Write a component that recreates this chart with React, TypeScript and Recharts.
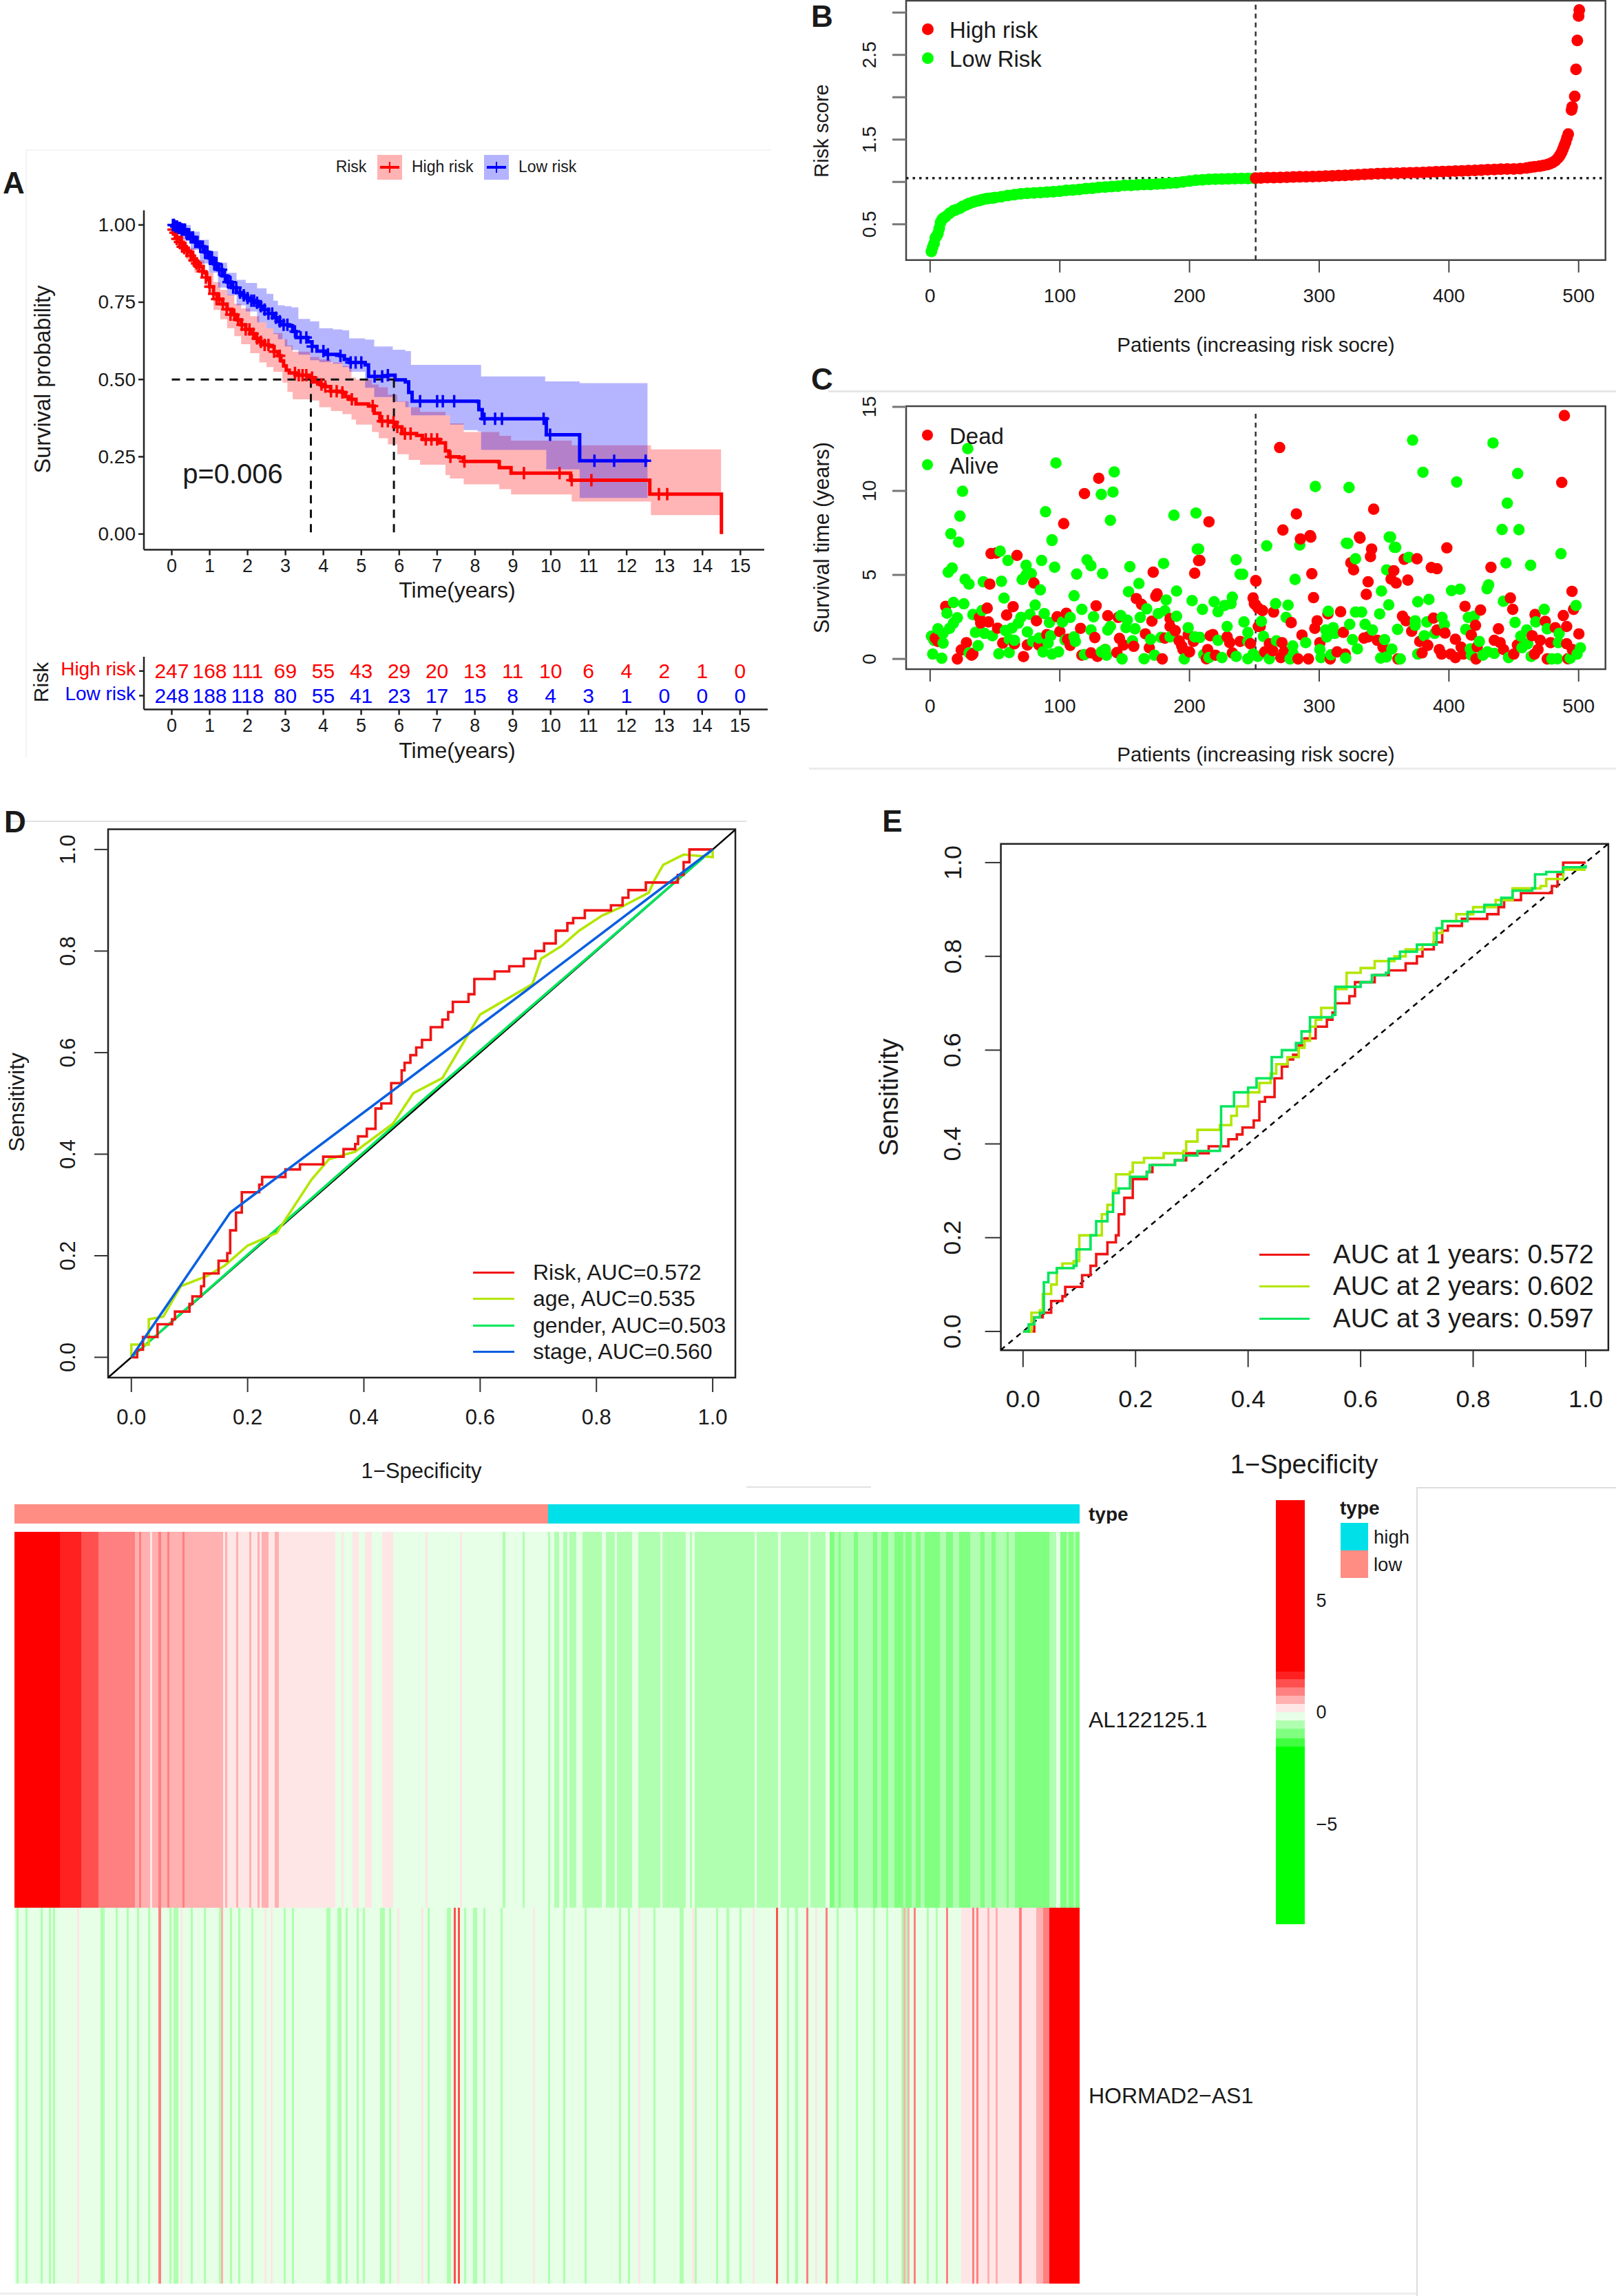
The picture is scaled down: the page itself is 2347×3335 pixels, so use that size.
import React from "react"
import {
    Area,
    Bar,
    BarChart,
    Cell,
    ComposedChart,
    Line,
    ReferenceArea,
    ReferenceLine,
    Scatter,
    XAxis,
    YAxis,
} from "recharts"

// ---- panel A: survival curves, [years, survival]
const highCurve: [number, number][] = [
    [0, 1], [0.05, 0.985], [0.12, 0.96], [0.25, 0.94], [0.35, 0.925], [0.435, 0.911], [0.55, 0.89], [0.65, 0.875], [0.74, 0.865],
    [0.83, 0.845], [0.92, 0.822], [1.0, 0.8], [1.1, 0.777], [1.22, 0.76], [1.34, 0.744], [1.46, 0.727], [1.59, 0.71], [1.7, 0.693],
    [1.83, 0.677], [1.95, 0.662], [2.07, 0.648], [2.2, 0.633], [2.31, 0.622], [2.45, 0.612], [2.56, 0.607], [2.7, 0.59], [2.8, 0.577],
    [2.88, 0.56], [2.95, 0.544], [3.02, 0.53], [3.1, 0.521], [3.28, 0.514], [3.65, 0.506], [3.77, 0.492], [3.9, 0.484], [4.01, 0.477],
    [4.19, 0.462], [4.5, 0.458], [4.58, 0.445], [4.67, 0.436], [4.86, 0.421], [5.19, 0.414], [5.34, 0.391], [5.49, 0.365], [5.76, 0.362],
    [5.92, 0.347], [6.07, 0.325], [6.46, 0.319], [6.61, 0.306], [7.07, 0.295], [7.22, 0.269], [7.31, 0.25], [7.58, 0.247], [7.7, 0.235],
    [8.61, 0.234], [8.64, 0.215], [8.95, 0.197], [10.43, 0.197], [10.52, 0.174], [12.61, 0.129], [14.49, 0.129], [14.5, 0],
]
const lowCurve: [number, number][] = [
    [0, 1], [0.25, 0.985], [0.38, 0.97], [0.5, 0.96], [0.62, 0.945], [0.74, 0.93], [0.86, 0.912], [0.98, 0.893], [1.1, 0.874],
    [1.22, 0.855], [1.34, 0.835], [1.46, 0.815], [1.58, 0.797], [1.71, 0.781], [1.83, 0.772], [1.95, 0.763], [2.07, 0.755], [2.19, 0.748],
    [2.31, 0.737], [2.43, 0.726], [2.55, 0.713], [2.68, 0.7], [2.77, 0.688], [2.86, 0.677], [3.1, 0.673], [3.19, 0.655], [3.28, 0.636],
    [3.59, 0.622], [3.7, 0.607], [3.83, 0.592], [4.07, 0.581], [4.43, 0.577], [4.55, 0.565], [4.68, 0.555], [5.1, 0.547], [5.19, 0.51],
    [5.7, 0.514], [5.89, 0.499], [6.16, 0.492], [6.25, 0.458], [6.34, 0.43], [8.07, 0.4285], [8.1, 0.4025], [8.19, 0.373], [9.88, 0.321],
    [10.76, 0.237], [12.55, 0.237],
]
const highCensored: [number, number][] = [
    [0.03, 0.985], [0.08, 0.975], [0.13, 0.955], [0.2, 0.945], [0.27, 0.93], [0.33, 0.925], [0.4, 0.915], [0.5, 0.9], [0.58, 0.885],
    [0.65, 0.875], [0.72, 0.865], [0.8, 0.85], [0.9, 0.83], [1.0, 0.8], [1.1, 0.777], [1.18, 0.76], [1.25, 0.76], [1.35, 0.744],
    [1.45, 0.727], [1.55, 0.71], [1.65, 0.71], [1.75, 0.693], [1.85, 0.677], [1.95, 0.662], [2.05, 0.662], [2.15, 0.648], [2.25, 0.633],
    [2.35, 0.622], [2.45, 0.612], [2.55, 0.612], [2.7, 0.59], [2.85, 0.577], [3.25, 0.521], [3.35, 0.514], [3.45, 0.514], [3.55, 0.514],
    [3.7, 0.506], [3.95, 0.484], [4.05, 0.477], [4.2, 0.462], [4.35, 0.462], [4.5, 0.458], [4.75, 0.436], [5.3, 0.414], [5.55, 0.365],
    [5.7, 0.365], [5.85, 0.362], [5.95, 0.347], [6.15, 0.325], [6.3, 0.325], [6.7, 0.306], [6.85, 0.306], [7.0, 0.306], [7.35, 0.25],
    [7.72, 0.235], [9.29, 0.197], [10.23, 0.197], [10.55, 0.174], [11.07, 0.174], [12.85, 0.129], [13.07, 0.129],
]
const lowCensored: [number, number][] = [
    [0.03, 1], [0.06, 1], [0.1, 0.995], [0.14, 0.995], [0.18, 0.99], [0.22, 0.99], [0.26, 0.985], [0.3, 0.985], [0.35, 0.985],
    [0.4, 0.97], [0.45, 0.97], [0.5, 0.96], [0.56, 0.96], [0.62, 0.945], [0.68, 0.945], [0.75, 0.93], [0.82, 0.93], [0.88, 0.912],
    [0.94, 0.912], [1.0, 0.893], [1.06, 0.893], [1.12, 0.874], [1.18, 0.874], [1.25, 0.855], [1.32, 0.855], [1.4, 0.835], [1.48, 0.815],
    [1.55, 0.815], [1.62, 0.797], [1.7, 0.797], [1.8, 0.781], [1.9, 0.772], [2.0, 0.763], [2.1, 0.755], [2.17, 0.755], [2.25, 0.748],
    [2.35, 0.737], [2.45, 0.726], [2.55, 0.713], [2.65, 0.713], [2.75, 0.7], [2.85, 0.688], [2.95, 0.677], [3.05, 0.677], [3.25, 0.655],
    [3.4, 0.636], [3.55, 0.636], [3.7, 0.607], [4.0, 0.592], [4.12, 0.581], [4.45, 0.577], [4.72, 0.555], [4.85, 0.555], [5.0, 0.555],
    [5.35, 0.51], [5.55, 0.51], [5.7, 0.514], [6.55, 0.43], [7.0, 0.43], [7.15, 0.43], [7.45, 0.43], [8.25, 0.373], [8.53, 0.373],
    [8.71, 0.373], [9.81, 0.373], [9.98, 0.321], [11.15, 0.237], [11.67, 0.237], [12.5, 0.237],
]
// [years, lower, upper]
const highBand: [number, number, number][] = [
    [0, 0.97, 1], [0.2, 0.93, 0.96], [0.37, 0.889, 0.926], [0.6, 0.845, 0.885], [0.86, 0.8, 0.845], [1.1, 0.725, 0.815], [1.28, 0.695, 0.79],
    [1.46, 0.666, 0.774], [1.65, 0.64, 0.745], [1.83, 0.614, 0.73], [2.07, 0.585, 0.705], [2.31, 0.555, 0.685], [2.5, 0.54, 0.665],
    [2.68, 0.525, 0.65], [2.92, 0.49, 0.63], [3.05, 0.46, 0.61], [3.19, 0.436, 0.59], [3.65, 0.432, 0.573], [3.89, 0.41, 0.565],
    [4.2, 0.398, 0.555], [4.5, 0.388, 0.544], [4.74, 0.37, 0.506], [4.86, 0.354, 0.5], [5.28, 0.33, 0.484], [5.46, 0.31, 0.475],
    [5.7, 0.29, 0.451], [5.95, 0.258, 0.43], [6.25, 0.24, 0.41], [6.55, 0.224, 0.395], [7.22, 0.191, 0.384], [7.34, 0.18, 0.358],
    [7.7, 0.161, 0.33], [8.64, 0.145, 0.318], [8.95, 0.128, 0.302], [10.55, 0.105, 0.287], [12.64, 0.061, 0.274], [14.49, 0.061, 0.274],
]
const lowBand: [number, number, number][] = [
    [0, 0.98, 1], [0.25, 0.955, 1], [0.5, 0.919, 0.978], [0.74, 0.875, 0.952], [0.98, 0.845, 0.915], [1.22, 0.797, 0.878], [1.46, 0.772, 0.845],
    [1.71, 0.74, 0.822], [1.95, 0.72, 0.812], [2.25, 0.685, 0.795], [2.5, 0.665, 0.777], [2.68, 0.647, 0.755], [2.8, 0.63, 0.74],
    [2.98, 0.607, 0.737], [3.16, 0.595, 0.733], [3.34, 0.58, 0.696], [3.65, 0.562, 0.688], [3.89, 0.556, 0.666], [4.25, 0.551, 0.662],
    [4.5, 0.54, 0.659], [4.68, 0.525, 0.633], [5.1, 0.473, 0.629], [5.34, 0.443, 0.607], [5.83, 0.428, 0.596], [6.16, 0.41, 0.592],
    [6.31, 0.384, 0.547], [7.34, 0.354, 0.547], [7.7, 0.336, 0.547], [8.07, 0.332, 0.547], [8.16, 0.272, 0.51], [9.85, 0.272, 0.494],
    [9.88, 0.209, 0.494], [10.76, 0.117, 0.488], [12.55, 0.117, 0.488],
]
const timeTicks = [0, 1, 2, 3, 4, 5, 6, 7, 8, 9, 10, 11, 12, 13, 14, 15]
const survTicks = [0, 0.25, 0.5, 0.75, 1]
const atRiskHigh = [247, 168, 111, 69, 55, 43, 29, 20, 13, 11, 10, 6, 4, 2, 1, 0]
const atRiskLow = [248, 188, 118, 80, 55, 41, 23, 17, 15, 8, 4, 3, 1, 0, 0, 0]

// ---- panel B: risk score per patient
const lowRiskPatients = [
    1, 2, 3, 4, 5, 6, 7, 8, 9, 10, 12, 15, 18, 20, 23, 25, 28, 30, 33, 35, 38, 40, 43, 45, 48, 50, 55, 60, 65, 70, 75, 80, 85, 90, 95, 100,
    105, 110, 115, 120, 125, 130, 135, 140, 145, 150, 155, 160, 165, 170, 175, 180, 185, 190, 195, 200, 205, 210, 215, 220, 225, 230, 235,
    240, 245, 250,
]
const lowRiskScores = [
    0.18, 0.23, 0.27, 0.34, 0.36, 0.39, 0.45, 0.52, 0.55, 0.57, 0.59, 0.63, 0.66, 0.67, 0.69, 0.71, 0.73, 0.745, 0.76, 0.77, 0.78, 0.79, 0.8,
    0.805, 0.81, 0.815, 0.825, 0.84, 0.85, 0.86, 0.865, 0.87, 0.875, 0.88, 0.885, 0.89, 0.9, 0.905, 0.91, 0.92, 0.925, 0.935, 0.94, 0.945,
    0.95, 0.96, 0.96, 0.965, 0.97, 0.97, 0.975, 0.98, 0.985, 0.99, 1.0, 1.01, 1.02, 1.025, 1.03, 1.033, 1.035, 1.036, 1.038, 1.04, 1.041, 1.043,
]
const highRiskPatients = [
    251, 255, 260, 265, 270, 275, 280, 285, 290, 295, 300, 305, 310, 315, 320, 325, 330, 335, 340, 345, 350, 355, 360, 365, 370, 375, 380,
    385, 390, 395, 400, 405, 410, 415, 420, 425, 430, 435, 440, 445, 450, 455, 460, 463, 466, 470, 473, 476, 478, 480, 482, 484, 485, 486,
    487, 488, 489, 490, 491, 492, 494.5, 495, 497, 498, 499, 500, 500.5,
]
const highRiskScores = [
    1.045, 1.047, 1.05, 1.05, 1.053, 1.055, 1.058, 1.06, 1.061, 1.063, 1.066, 1.069, 1.072, 1.075, 1.078, 1.082, 1.086, 1.09, 1.094, 1.097,
    1.099, 1.101, 1.103, 1.105, 1.108, 1.11, 1.112, 1.116, 1.119, 1.122, 1.125, 1.128, 1.131, 1.134, 1.136, 1.14, 1.144, 1.147, 1.15, 1.152,
    1.153, 1.157, 1.164, 1.172, 1.178, 1.186, 1.195, 1.205, 1.215, 1.23, 1.25, 1.28, 1.3, 1.325, 1.354, 1.39, 1.43, 1.47, 1.52, 1.565, 1.85,
    1.885, 2.01, 2.33, 2.67, 2.96, 3.03,
]
const patientTicks = [0, 100, 200, 300, 400, 500]
const riskTicks = [0.5, 1, 1.5, 2, 2.5, 3]
const riskMedian = 1.044
const cutoffPatient = 251

// ---- panel C: [patient, survival years]
const aliveCases: [number, number][] = [
    [29, 12.52], [97, 11.66], [142, 11.13], [25, 9.98], [141, 9.93], [132, 9.79], [23, 8.5], [89, 8.76], [139, 8.25], [188, 8.55], [205, 8.68],
    [16, 7.45], [22, 6.95], [94, 7.09], [206, 6.53], [372, 13.02], [434, 12.85], [380, 11.11], [453, 11.03], [406, 10.53], [297, 10.26], [323, 10.2],
    [445, 9.27], [441, 7.7], [454, 7.69], [354, 7.25], [322, 6.87], [358, 6.64],
    [94, 7.05], [54, 6.41], [60, 5.86], [86, 5.86], [74, 5.57], [96, 5.46], [121, 5.89], [124, 5.55], [180, 5.68], [154, 5.49], [133, 5.08], [113, 5.05],
    [14, 5.16], [17, 5.41], [207, 6.54], [236, 5.9], [239, 5.04], [241, 5.04], [27, 4.73], [30, 4.45], [41, 4.59], [55, 4.62], [71, 4.73], [74, 5.0],
    [78, 5.07], [85, 4.11], [161, 4.49], [153, 4.0], [190, 4.04], [111, 3.76], [57, 3.62], [182, 3.51], [202, 3.47], [210, 2.95], [219, 3.4], [233, 3.68],
    [227, 3.18], [232, 3.29], [222, 2.81], [18, 3.36], [26, 3.28], [81, 3.21], [117, 2.95], [126, 2.51], [167, 2.98], [176, 2.7], [181, 2.86], [190, 2.54],
    [162, 2.47], [147, 2.58], [152, 2.31], [88, 2.7], [77, 2.65], [33, 2.64], [40, 2.88], [13, 2.72], [21, 2.45], [18, 2.13], [15, 1.82], [70, 2.47],
    [68, 2.13], [92, 2.17], [108, 2.47], [102, 2.2], [139, 1.93], [137, 1.72], [151, 1.86], [158, 1.79], [242, 2.2], [229, 1.93], [245, 1.58], [199, 1.86],
    [208, 1.28], [204, 1.31], [6, 1.79], [10, 1.52], [1, 1.35], [10, 0.94], [3, 1.11], [35, 1.58], [42, 1.52], [48, 1.38], [58, 1.69], [63, 1.83],
    [75, 1.61], [65, 1.11], [61, 1.17], [84, 1.24], [79, 1.04], [93, 1.38], [91, 0.94], [87, 0.42], [94, 0.29], [99, 0.42], [124, 1.72], [111, 1.31],
    [112, 1.04], [104, 1.13], [170, 1.17], [178, 1.28], [185, 1.31], [156, 1.08], [222, 1.11], [245, 1.04], [37, 0.79], [2, 0.29], [9, 0.04], [53, 0.31],
    [61, 0.38], [30, 0.36], [119, 0.26], [132, 0.42], [136, 0.22], [148, 0], [165, 0.01], [173, 0.22], [196, 0], [211, 0.26], [215, 0.08], [225, 0.08],
    [236, 0.15], [245, 0.01], [249, 0.29], [135, 0.56],
    [259.5, 6.73], [285, 6.78], [321, 6.89], [355, 7.25], [359, 6.64], [328, 5.96], [369, 6.05], [352, 5.3], [281.4, 4.73], [348, 4.04], [402, 4.07],
    [408.5, 4.15], [429.4, 4.18], [430.6, 4.41], [444, 5.71], [463, 5.57], [486.4, 6.26], [266.4, 3.29], [276, 3.2], [376, 3.4], [384.6, 3.54], [353.6, 3.22],
    [442, 3.43], [307, 2.84], [328, 2.79], [332.7, 2.79], [346.6, 2.68], [473.5, 2.95], [498, 3.18], [255.4, 2.24], [274.5, 2.47], [323.5, 2.06], [335.4, 2.06],
    [383, 2.2], [374, 2.27], [374, 2.0], [394.7, 2.47], [396.5, 2.04], [415, 2.47], [419.5, 2.54], [451, 2.17], [360.4, 1.76], [341, 1.72], [413, 1.75],
    [467, 2.2], [305, 1.72], [310.8, 1.86], [312, 1.52], [305.8, 1.31], [381, 1.38], [389, 1.52], [460, 1.72], [455.4, 1.35], [475.8, 1.79], [485, 1.52],
    [484.4, 0.97], [257, 1.34], [267, 1.08], [325.7, 1.15], [329.4, 0.6], [289.6, 0.97], [350.4, 1.15], [356, 0.59], [423.5, 1.04], [456.3, 0.67], [460.7, 0.9],
    [463.4, 0.15], [279.6, 0.77], [280, 0.29], [277.5, 0], [300.5, 0.56], [301.4, 0.08], [309, 0.25], [320.4, 0.05], [252.7, 0.15], [261.6, 0.01], [347.4, 0.05],
    [351.9, 0.12], [362.5, 0], [376, 0.29], [416.5, 0.6], [417.3, 0.22], [426.2, 0.22], [429.7, 0.42], [435, 0.33], [446, 0.08], [493.5, 0.04], [483.7, 0.01],
    [479.3, 0], [498.8, 0.29], [501.4, 0.66],
]
const deadCases: [number, number][] = [
    [130, 10.75], [119, 9.84], [103, 8.05], [215, 8.16], [207, 5.85], [489, 14.48], [269.5, 12.58], [487, 10.5], [342, 8.91], [282.4, 8.63], [272, 7.67],
    [293, 7.34], [331, 7.25],
    [47, 6.27], [51, 6.3], [67, 6.16], [46, 4.45], [80, 4.52], [172, 5.16], [208, 5.86], [204, 5.1], [251, 4.66], [159, 3.59], [163, 3.25], [174, 3.73],
    [175, 3.87], [12, 3.13], [44, 3.02], [64, 3.11], [128, 3.16], [59, 2.61], [249, 3.63], [251, 3.22], [253, 3.02], [38, 2.47], [39, 2.13], [45, 2.2],
    [82, 2.27], [98, 2.51], [105, 2.72], [137, 2.57], [145, 2.47], [171, 2.25], [185, 2.4], [185, 1.93], [189, 1.68], [52, 1.83], [100, 1.63], [116, 1.82],
    [127, 1.27], [90, 1.45], [166, 1.49], [199, 1.45], [218, 1.45], [216, 1.38], [229, 1.31], [231, 0.97], [239, 1.04], [247, 0.9], [253, 1.93], [4, 1.24],
    [6, 1.04], [56, 0.94], [65, 0.9], [75, 0.83], [84, 0.83], [106, 1.17], [108, 0.81], [146, 1.22], [149, 0.83], [157, 0.75], [169, 0.66], [181, 1.24],
    [192, 1.08], [194, 0.77], [203, 1.04], [195, 0.56], [200, 0.42], [214, 0.56], [28, 0.97], [24, 0.53], [21, 0], [33, 0.31], [32, 0.22], [72, 0.14],
    [117, 0.22], [124, 0.36], [129, 0.15], [135, 0.56], [144, 0.38], [179, 0], [213, 0.01], [220, 0.22], [233, 0.36],
    [285.5, 7.14], [293.5, 7.25], [331.5, 7.19], [340.4, 6.54], [339.5, 6.09], [398.4, 6.61], [324.4, 5.72], [326.5, 5.3], [365.5, 5.93], [375.4, 5.96],
    [386.4, 5.44], [390.8, 5.37], [432.4, 5.45], [294.3, 5.07], [251.3, 4.63], [357.5, 5.25], [355.4, 4.75], [359.3, 4.52], [368.3, 4.69], [337.7, 4.59],
    [336.3, 3.84], [295.6, 3.65], [494.9, 4.02], [447.4, 3.63], [250, 3.29], [256.3, 2.88], [264.8, 2.79], [412.4, 3.13], [424.4, 2.91], [449.2, 2.95],
    [496.1, 2.95], [488.2, 2.58], [466.4, 2.64], [306.7, 2.68], [316.5, 2.81], [364.2, 2.54], [366.9, 2.27], [388.1, 2.43], [278.4, 2.16], [254.5, 1.93],
    [298.4, 2.27], [296.6, 1.82], [371.3, 1.65], [420.5, 2.0], [474.3, 2.24], [318.6, 1.58], [286.7, 1.42], [417.3, 1.42], [390.8, 1.72], [397, 1.54],
    [438.2, 1.79], [490.8, 1.93], [482, 1.86], [500.2, 1.49], [464.2, 1.38], [470.4, 1.11], [271.3, 0.97], [261.6, 0.9], [300.5, 0.97], [334.5, 1.24],
    [337.7, 1.31], [344.8, 1.11], [349.2, 0.7], [377.5, 1.04], [383.7, 0.81], [405, 1.17], [435, 1.11], [439.5, 0.97], [478.4, 0.97], [490.8, 0.9],
    [258, 0.42], [264.2, 0.49], [273, 0.42], [270.4, 0.08], [313.8, 0.42], [283.7, 0], [291.7, 0], [308.5, 0], [320, 0.29], [360.7, 0], [379.3, 0.36],
    [392.6, 0.56], [394.3, 0.29], [401.4, 0.29], [405, 0.08], [409.4, 0.7], [411.1, 0.29], [420.9, 0], [421.8, 0.72], [442.1, 0.56], [450, 0.29],
    [452.8, 0.83], [466, 0.29], [468.7, 0.56], [475.8, 0], [491.7, 0.01], [495.2, 0.56],
]
const yearTicks = [0, 5, 10, 15]

// ---- panel D and E: ROC curves, [1-specificity, sensitivity]
const rocRisk: [number, number][] = [
    [0, 0], [0.01, 0.015], [0.02, 0.04], [0.045, 0.065], [0.07, 0.075], [0.075, 0.09], [0.1, 0.105], [0.105, 0.12], [0.12, 0.14], [0.125, 0.165], [0.15, 0.19],
    [0.165, 0.205], [0.17, 0.25], [0.18, 0.285], [0.19, 0.325], [0.22, 0.34], [0.225, 0.355], [0.265, 0.37], [0.29, 0.38], [0.33, 0.395], [0.365, 0.41],
    [0.385, 0.42], [0.39, 0.435], [0.405, 0.45], [0.42, 0.49], [0.43, 0.5], [0.447, 0.54], [0.465, 0.565], [0.47, 0.58], [0.48, 0.595], [0.49, 0.61], [0.5, 0.625],
    [0.515, 0.65], [0.535, 0.665], [0.545, 0.68], [0.553, 0.7], [0.58, 0.715], [0.59, 0.745], [0.625, 0.76], [0.65, 0.77], [0.675, 0.785], [0.695, 0.8], [0.71, 0.815],
    [0.73, 0.84], [0.75, 0.855], [0.76, 0.865], [0.78, 0.88], [0.825, 0.89], [0.845, 0.905], [0.855, 0.92], [0.885, 0.935], [0.94, 0.95], [0.95, 0.975], [0.96, 1], [1, 1],
]
const rocAge: [number, number][] = [
    [0, 0], [0, 0.025], [0.03, 0.025], [0.03, 0.075], [0.055, 0.08], [0.085, 0.14], [0.13, 0.16], [0.16, 0.18], [0.2, 0.22], [0.25, 0.245], [0.31, 0.35], [0.34, 0.39],
    [0.385, 0.405], [0.45, 0.46], [0.485, 0.52], [0.535, 0.55], [0.6, 0.675], [0.69, 0.735], [0.705, 0.785], [0.74, 0.81], [0.77, 0.84], [0.81, 0.87], [0.84, 0.885],
    [0.89, 0.915], [0.9, 0.94], [0.915, 0.97], [0.95, 0.99], [1, 0.985], [1, 1],
]
const rocGender: [number, number][] = [[0, 0], [0.5, 0.505], [1, 1]]
const rocStage: [number, number][] = [[0, 0], [0.17, 0.285], [0.7, 0.74], [1, 1]]
const roc1Year: [number, number][] = [
    [0, 0], [0.02, 0.03], [0.035, 0.04], [0.05, 0.065], [0.07, 0.075], [0.075, 0.095], [0.105, 0.12], [0.12, 0.14], [0.13, 0.165], [0.15, 0.19], [0.165, 0.205],
    [0.17, 0.25], [0.18, 0.285], [0.195, 0.325], [0.22, 0.34], [0.23, 0.355], [0.27, 0.365], [0.29, 0.38], [0.33, 0.395], [0.365, 0.41], [0.38, 0.42], [0.39, 0.435],
    [0.41, 0.45], [0.42, 0.49], [0.43, 0.5], [0.447, 0.54], [0.46, 0.565], [0.47, 0.58], [0.48, 0.59], [0.49, 0.61], [0.5, 0.625], [0.52, 0.65], [0.54, 0.665], [0.55, 0.68],
    [0.555, 0.7], [0.58, 0.715], [0.59, 0.745], [0.625, 0.76], [0.65, 0.77], [0.68, 0.785], [0.7, 0.8], [0.71, 0.815], [0.73, 0.83], [0.745, 0.855], [0.755, 0.865],
    [0.78, 0.88], [0.825, 0.89], [0.845, 0.905], [0.855, 0.92], [0.885, 0.935], [0.94, 0.95], [0.95, 0.975], [0.96, 1], [1, 1],
]
const roc2Year: [number, number][] = [
    [0, 0], [0.015, 0.04], [0.03, 0.045], [0.035, 0.08], [0.05, 0.1], [0.06, 0.135], [0.07, 0.145], [0.09, 0.15], [0.1, 0.205], [0.12, 0.205], [0.14, 0.25], [0.15, 0.27],
    [0.16, 0.3], [0.165, 0.335], [0.19, 0.34], [0.195, 0.36], [0.215, 0.37], [0.25, 0.38], [0.285, 0.385], [0.29, 0.405], [0.31, 0.43], [0.35, 0.44], [0.37, 0.46],
    [0.38, 0.48], [0.4, 0.51], [0.42, 0.53], [0.44, 0.55], [0.45, 0.57], [0.47, 0.585], [0.49, 0.605], [0.5, 0.62], [0.51, 0.65], [0.52, 0.665], [0.53, 0.69], [0.555, 0.73],
    [0.575, 0.765], [0.6, 0.775], [0.625, 0.79], [0.66, 0.8], [0.68, 0.815], [0.71, 0.825], [0.73, 0.85], [0.745, 0.875], [0.77, 0.89], [0.8, 0.905], [0.84, 0.92], [0.87, 0.945],
    [0.92, 0.95], [0.93, 0.965], [0.96, 0.985], [1, 0.985],
]
const roc3Year: [number, number][] = [
    [0, 0], [0.01, 0.015], [0.02, 0.03], [0.03, 0.04], [0.037, 0.105], [0.045, 0.125], [0.06, 0.135], [0.09, 0.14], [0.095, 0.175], [0.12, 0.205], [0.13, 0.235], [0.15, 0.255],
    [0.16, 0.295], [0.17, 0.305], [0.19, 0.33], [0.22, 0.34], [0.225, 0.355], [0.27, 0.365], [0.285, 0.375], [0.31, 0.385], [0.35, 0.395], [0.352, 0.48], [0.375, 0.51], [0.4, 0.52],
    [0.415, 0.54], [0.442, 0.585], [0.46, 0.6], [0.485, 0.615], [0.495, 0.64], [0.51, 0.67], [0.55, 0.675], [0.555, 0.735], [0.6, 0.745], [0.62, 0.76], [0.645, 0.765], [0.65, 0.795],
    [0.67, 0.81], [0.7, 0.825], [0.735, 0.86], [0.745, 0.875], [0.79, 0.895], [0.82, 0.91], [0.85, 0.925], [0.87, 0.94], [0.905, 0.945], [0.91, 0.975], [0.93, 0.98], [0.96, 0.99], [1, 0.995],
]
const diagonal: [number, number][] = [[-0.04, -0.04], [1.04, 1.04]]
const rocTicks = [0, 0.2, 0.4, 0.6, 0.8, 1]

// ---- heatmap: runs of [patient columns, expression level]
const P0 = 0.2, P1 = 0.6, P2 = 0.9, P3 = 1.3, P4 = 1.6, MAX = 6, N0 = -0.2, N1 = -0.5, N2 = -0.9
const topGeneRuns: [number, number][] = [
    [21, MAX], [10, P4], [8, P3], [17, P2], [2, P1], [1, P2], [4, P1], [1, P0], [3, P1], [1, P2], [3, P1], [1, P2], [6, P1], [1, P2], [18, P1], [1, P0], [1, P1], [4, P0], [1, P1], [5, P0],
    [1, P1], [3, P0], [1, P1], [1, P0], [3, P1], [3, P0], [2, P1], [26, P0], [3, N0], [1, P0], [4, N0], [3, P0], [3, N0], [3, P0], [5, N0], [5, P0], [15, N0], [1, P0], [15, N0], [1, P0],
    [19, N0], [1, N1], [8, N0], [1, N1], [11, N0], [1, N1], [2, N0], [2, N1], [2, N0], [2, N1], [1, N0], [3, N1], [3, N0], [9, N1], [2, N0], [4, N1], [1, N0], [7, N1], [3, N0], [10, N1],
    [1, N0], [11, N1], [2, N0], [1, N1], [1, N0], [28, N1], [1, N0], [10, N1], [1, N0], [13, N1], [1, N0], [7, N1], [2, N0], [2, N2], [2, N1], [1, N2], [6, N1], [2, N2], [7, N1], [2, N2],
    [2, N1], [3, N2], [3, N1], [4, N2], [1, N1], [3, N2], [2, N1], [2, N2], [2, N1], [7, N2], [3, N1], [3, N2], [3, N1], [5, N2], [5, N1], [2, N2], [3, N1], [2, N2], [5, N1], [1, N2],
    [3, N1], [16, N2], [3, N1], [2, N0], [3, N2], [1, N1], [2, N2], [1, N1], [2, N2],
]
const bottomGeneRuns: [number, number][] = [
    [1, N0], [1, N1], [3, N0], [1, N1], [6, N0], [1, N1], [3, N0], [1, N1], [1, N0], [1, N1], [10, N0], [1, P0], [10, N0], [2, N1], [5, N0], [1, N1], [4, N0], [1, N1], [4, N0], [1, N1],
    [4, N0], [1, N1], [4, N0], [1, P2], [4, N0], [1, N1], [1, N0], [2, N1], [1, N0], [1, P0], [4, N0], [1, N1], [5, N0], [1, N1], [6, N0], [1, N1], [1, P1], [3, N0], [1, N1], [3, N0],
    [1, N1], [5, N0], [1, N1], [5, N0], [1, P0], [2, N0], [1, P0], [5, N0], [1, N1], [3, N0], [1, N1], [15, N0], [2, N1], [3, N0], [2, N1], [2, N0], [1, N1], [4, N0], [1, N1], [2, N0],
    [1, N1], [7, N0], [2, N1], [2, N0], [1, N1], [3, N0], [1, P0], [10, N0], [1, P0], [2, N0], [1, N1], [8, N0], [2, N1], [1, N0], [1, P3], [1, N0], [1, P3], [2, N0], [1, N1], [3, N0],
    [2, N1], [3, N0], [1, N1], [7, N0], [1, N1], [14, N0], [1, P0], [6, N0], [1, N1], [6, N0], [1, N1], [9, N0], [1, N1], [15, N0], [1, N1], [3, N0], [1, N1], [4, N0], [1, P0], [6, N0],
    [1, N1], [11, N0], [2, N1], [4, N0], [1, P0], [1, N1], [9, N0], [1, N1], [4, N0], [1, N1], [5, N0], [1, N1], [5, N0], [1, P0], [10, N0], [1, P3], [4, N0], [1, N1], [3, N0], [1, N1],
    [4, N0], [1, P2], [3, N0], [1, P0], [4, N0], [1, P2], [4, N0], [1, N1], [8, N0], [1, N1], [7, N0], [1, N1], [5, N0], [1, N1], [6, N0], [1, N1], [1, P1], [1, N1], [1, P1], [2, N0],
    [1, P2], [5, N0], [1, N1], [3, N0], [1, N1], [4, N0], [1, P2], [6, N0], [5, P0], [1, P2], [1, P0], [1, P2], [4, P0], [1, P1], [3, P0], [1, P1], [10, P0], [1, P2], [7, P0], [3, P1],
    [3, P2], [14, MAX],
]
const lowGroupColumns = 248
const highGroupColumns = 247
const heatColumns = lowGroupColumns + highGroupColumns

// colour key, stacked outwards from zero
const keyPositiveSizes = [0.38, 0.37, 0.36, 0.37, 0.34, 7.66]
const keyPositiveColors = ["#FFE6E6", "#FFB0B0", "#FF8080", "#FF5050", "#FF2020", "#FF0000"]
const keyNegativeSizes = [0.35, 0.37, 0.42, 0.37, 7.94]
const keyNegativeColors = ["#E6FFE6", "#B0FFB0", "#80FF80", "#40FF40", "#00FF00"]
const keyTicks = [-5, 0, 5]

const RED = "#FF0000"
const LIME = "#00FF00"
const BLUE = "#0000FF"
const INK = "#1a1a1a"

const pts = (list: [number, number][]) => list.map(([x, y]) => ({ x, y }))
const zip = (xs: number[], ys: number[]) => xs.map((x, i) => ({ x, y: ys[i] }))
const band = (list: [number, number, number][]) => list.map(([x, lo, hi]) => ({ x, lo, hi }))
const bandRange = (d: any) => [d.lo, d.hi]

function levelColor(z: number): string {
    if (z >= 5) return "#FF0000"
    if (z >= 0) {
        let edge = 0
        for (let i = 0; i < keyPositiveSizes.length; i++) {
            edge += keyPositiveSizes[i]
            if (z <= edge) return keyPositiveColors[i]
        }
    }
    let edge = 0
    for (let i = 0; i < keyNegativeSizes.length; i++) {
        edge -= keyNegativeSizes[i]
        if (z >= edge) return keyNegativeColors[i]
    }
    return "#00FF00"
}

function Txt({ x, y, size, rotate = 0, color = INK, bold = false, anchor = "middle", children }: any) {
    const tx = anchor === "middle" ? "-50%" : "0"
    return (
        <div
            style={{
                position: "absolute",
                left: x,
                top: y,
                fontSize: size,
                color,
                fontWeight: bold ? 700 : 400,
                lineHeight: 1,
                whiteSpace: "nowrap",
                transform: `translate(${tx}, -50%) rotate(${rotate}deg)`,
            }}
        >
            {children}
        </div>
    )
}

function Box({ x, y, w, h, color, round = false }: any) {
    return (
        <div style={{ position: "absolute", left: x, top: y, width: w, height: h, background: color, borderRadius: round ? "50%" : 0 }} />
    )
}

function At({ x, y, children }: any) {
    return <div style={{ position: "absolute", left: x, top: y }}>{children}</div>
}

const flatTick = (dy: number, size: number, format: (v: number) => string = String) => (p: any) => (
    <text x={p.x} y={p.y + dy} textAnchor="middle" dominantBaseline="central" fontSize={size} fill={INK}>
        {format(p.payload.value)}
    </text>
)

const sideTick = (dx: number, size: number, format: (v: number) => string = String) => (p: any) => (
    <text
        x={p.x - dx}
        y={p.y}
        textAnchor="middle"
        dominantBaseline="central"
        fontSize={size}
        fill={INK}
        transform={`rotate(-90 ${p.x - dx} ${p.y})`}
    >
        {format(p.payload.value)}
    </text>
)

const plusMark = (color: string) => (p: any) => (
    <path d={`M${p.cx - 8} ${p.cy}H${p.cx + 8}M${p.cx} ${p.cy - 9}V${p.cy + 9}`} stroke={color} strokeWidth={3.5} fill="none" />
)

const dotMark = (r: number, color: string) => (p: any) => <circle cx={p.cx} cy={p.cy} r={r} fill={color} />

function SurvivalPanel() {
    return (
        <ComposedChart width={1030} height={548.6} margin={{ top: 15.6, right: 10, bottom: 0, left: 0 }}>
            <XAxis
                dataKey="x"
                type="number"
                domain={[-0.735, 15.63]}
                allowDataOverflow
                ticks={timeTicks}
                interval={0}
                height={40}
                tickSize={8}
                tickMargin={0}
                stroke="#222"
                strokeWidth={2.5}
                tick={flatTick(15.4, 27)}
            />
            <YAxis
                dataKey="y"
                type="number"
                domain={[-0.051, 1.047]}
                allowDataOverflow
                ticks={survTicks}
                interval={0}
                width={119}
                tickSize={8}
                tickMargin={0}
                stroke="#222"
                strokeWidth={2.5}
                tick={(p: any) => (
                    <text x={p.x - 4} y={p.y} textAnchor="end" dominantBaseline="central" fontSize={28} fill={INK}>
                        {p.payload.value.toFixed(2)}
                    </text>
                )}
            />
            <Area data={band(highBand)} dataKey={bandRange} type="stepAfter" stroke="none" fill={RED} fillOpacity={0.29} isAnimationActive={false} />
            <Area data={band(lowBand)} dataKey={bandRange} type="stepAfter" stroke="none" fill={BLUE} fillOpacity={0.29} isAnimationActive={false} />
            <Line data={pts(highCurve)} dataKey="y" type="stepAfter" stroke={RED} strokeWidth={5} dot={false} isAnimationActive={false} />
            <Line data={pts(lowCurve)} dataKey="y" type="stepAfter" stroke={BLUE} strokeWidth={5} dot={false} isAnimationActive={false} />
            <Scatter data={pts(highCensored)} shape={plusMark(RED)} isAnimationActive={false} />
            <Scatter data={pts(lowCensored)} shape={plusMark(BLUE)} isAnimationActive={false} />
            <Line data={pts([[0, 0.5], [5.86, 0.5]])} dataKey="y" stroke="#111" strokeWidth={3} strokeDasharray="12 9" dot={false} isAnimationActive={false} />
            <Line data={pts([[3.67, 0.5], [3.67, 0]])} dataKey="y" stroke="#111" strokeWidth={3} strokeDasharray="12 9" dot={false} isAnimationActive={false} />
            <Line data={pts([[5.86, 0.5], [5.86, 0]])} dataKey="y" stroke="#111" strokeWidth={3} strokeDasharray="12 9" dot={false} isAnimationActive={false} />
        </ComposedChart>
    )
}

function RiskTablePanel() {
    const countMark = (color: string) => (p: any) => (
        <text x={p.cx} y={p.cy} textAnchor="middle" dominantBaseline="central" fontSize={30} fill={color}>
            {p.payload.n}
        </text>
    )
    return (
        <ComposedChart width={1035} height={135.4} margin={{ top: 14, right: 10, bottom: 0, left: 0 }}>
            <XAxis
                dataKey="x"
                type="number"
                domain={[-0.735, 15.73]}
                allowDataOverflow
                ticks={timeTicks}
                interval={0}
                height={45}
                tickSize={8}
                tickMargin={0}
                stroke="#222"
                strokeWidth={2.5}
                tick={flatTick(15.6, 27)}
            />
            <YAxis
                dataKey="y"
                type="number"
                domain={[-0.556, 1.578]}
                allowDataOverflow
                ticks={[0, 1]}
                interval={0}
                width={119}
                tickSize={7}
                tickMargin={0}
                stroke="#222"
                strokeWidth={2.5}
                tick={(p: any) => (
                    <text x={p.x - 5} y={p.y - 3} textAnchor="end" dominantBaseline="central" fontSize={28} fill={p.payload.value === 1 ? RED : BLUE}>
                        {p.payload.value === 1 ? "High risk" : "Low risk"}
                    </text>
                )}
            />
            <Scatter data={timeTicks.map((x, i) => ({ x, y: 1, n: atRiskHigh[i] }))} shape={countMark(RED)} isAnimationActive={false} />
            <Scatter data={timeTicks.map((x, i) => ({ x, y: 0, n: atRiskLow[i] }))} shape={countMark(BLUE)} isAnimationActive={false} />
        </ComposedChart>
    )
}

function RiskScorePanel() {
    const highPoints = zip(highRiskPatients, highRiskScores)
    return (
        <ComposedChart width={1147} height={447.8} margin={{ top: 1, right: 15.3, bottom: 0, left: 0 }}>
            <XAxis
                dataKey="x"
                type="number"
                domain={[-18.5, 520.7]}
                allowDataOverflow
                ticks={patientTicks}
                interval={0}
                height={70}
                tickSize={18}
                tickMargin={0}
                axisLine={false}
                tickLine={{ stroke: "#444", strokeWidth: 2 }}
                tick={flatTick(34, 28)}
            />
            <YAxis
                dataKey="y"
                type="number"
                domain={[0.077, 3.14]}
                allowDataOverflow
                ticks={riskTicks}
                interval={0}
                width={116}
                tickSize={20}
                tickMargin={0}
                axisLine={false}
                tickLine={{ stroke: "#777", strokeWidth: 3 }}
                tick={sideTick(33, 28, (v) => (v === 0.5 || v === 1.5 || v === 2.5 ? v.toFixed(1) : ""))}
            />
            <ReferenceArea x1={-18.5} x2={520.7} y1={0.077} y2={3.14} fill="none" stroke="#444" strokeWidth={2.5} />
            {/* the thick stroke closes the gaps between the dots of the dense stretch */}
            <Line data={zip(lowRiskPatients, lowRiskScores)} dataKey="y" stroke={LIME} strokeWidth={15} strokeLinecap="round" dot={false} isAnimationActive={false} />
            <Line data={highPoints.filter((d) => d.x <= 492)} dataKey="y" stroke={RED} strokeWidth={15} strokeLinecap="round" dot={false} isAnimationActive={false} />
            <Scatter data={zip(lowRiskPatients, lowRiskScores)} shape={dotMark(8.5, LIME)} isAnimationActive={false} />
            <Scatter data={highPoints} shape={dotMark(8.5, RED)} isAnimationActive={false} />
            <ReferenceLine y={riskMedian} stroke="#222" strokeWidth={3.5} strokeDasharray="3.5 6" />
            <ReferenceLine x={cutoffPatient} stroke="#333" strokeWidth={2.5} strokeDasharray="7 6" />
        </ComposedChart>
    )
}

const survivalPoints = [
    ...deadCases.map(([x, y]) => ({ x, y, dead: true })),
    ...aliveCases.map(([x, y]) => ({ x, y, dead: false })),
].sort((a, b) => a.x - b.x)

function SurvivalTimePanel() {
    return (
        <ComposedChart width={1147} height={482} margin={{ top: 30, right: 15.3, bottom: 0, left: 0 }}>
            <XAxis
                dataKey="x"
                type="number"
                domain={[-18.5, 520.7]}
                allowDataOverflow
                ticks={patientTicks}
                interval={0}
                height={70}
                tickSize={18}
                tickMargin={0}
                axisLine={false}
                tickLine={{ stroke: "#444", strokeWidth: 2 }}
                tick={flatTick(35.6, 28)}
            />
            <YAxis
                dataKey="y"
                type="number"
                domain={[-0.61, 15.04]}
                allowDataOverflow
                ticks={yearTicks}
                interval={0}
                width={116}
                tickSize={20}
                tickMargin={0}
                axisLine={false}
                tickLine={{ stroke: "#777", strokeWidth: 3 }}
                tick={sideTick(33, 28)}
            />
            <ReferenceArea x1={-18.5} x2={520.7} y1={-0.61} y2={15.04} fill="none" stroke="#444" strokeWidth={2.5} />
            <Scatter
                data={survivalPoints}
                shape={(p: any) => <circle cx={p.cx} cy={p.cy} r={8.3} fill={p.payload.dead ? RED : LIME} />}
                isAnimationActive={false}
            />
            <Line data={pts([[cutoffPatient, -0.61], [cutoffPatient, 14.7]])} dataKey="y" stroke="#333" strokeWidth={2.5} strokeDasharray="7 6" dot={false} isAnimationActive={false} />
        </ComposedChart>
    )
}

function RocPanel({ width, height, margin, yWidth, xHeight, xDomain, yDomain, tickX, tickY, dy, dx, size, curves, dashed }: any) {
    return (
        <ComposedChart width={width} height={height} margin={margin}>
            <XAxis
                dataKey="x"
                type="number"
                domain={xDomain}
                allowDataOverflow
                ticks={rocTicks}
                interval={0}
                height={xHeight}
                tickSize={tickX}
                tickMargin={0}
                axisLine={false}
                tickLine={{ stroke: "#333", strokeWidth: 2 }}
                tick={flatTick(dy, size, (v) => v.toFixed(1))}
            />
            <YAxis
                dataKey="y"
                type="number"
                domain={yDomain}
                allowDataOverflow
                ticks={rocTicks}
                interval={0}
                width={yWidth}
                tickSize={tickY}
                tickMargin={0}
                axisLine={false}
                tickLine={{ stroke: "#333", strokeWidth: 2 }}
                tick={sideTick(dx, size, (v) => v.toFixed(1))}
            />
            <ReferenceArea x1={xDomain[0]} x2={xDomain[1]} y1={yDomain[0]} y2={yDomain[1]} fill="none" stroke="#222" strokeWidth={2.5} />
            <Line data={pts(diagonal)} dataKey="y" stroke="#000" strokeWidth={2.5} strokeDasharray={dashed ? "8 7" : undefined} dot={false} isAnimationActive={false} />
            {curves.map((c: any) => (
                <Line key={c.name} data={pts(c.data)} dataKey="y" type={c.step ? "stepAfter" : "linear"} stroke={c.color} strokeWidth={3.6} dot={false} isAnimationActive={false} />
            ))}
        </ComposedChart>
    )
}

const heatRows = ["AL122125.1", "HORMAD2\u2212AS1"].map((gene, r) => {
    const runs = r === 0 ? topGeneRuns : bottomGeneRuns
    const row: any = { gene }
    runs.forEach(([n], i) => {
        row[`s${i}`] = n
    })
    return row
})
const segmentCount = Math.max(topGeneRuns.length, bottomGeneRuns.length)

function HeatmapPanel() {
    return (
        <div style={{ shapeRendering: "crispEdges" }}>
            <BarChart layout="vertical" width={1847} height={1092} data={heatRows} margin={{ top: 0, right: 0, bottom: 0, left: 0 }} barCategoryGap={0}>
                <XAxis type="number" domain={[0, heatColumns]} allowDataOverflow hide />
                <YAxis
                    type="category"
                    dataKey="gene"
                    orientation="right"
                    width={300}
                    axisLine={false}
                    tickLine={false}
                    tickSize={13}
                    tickMargin={0}
                    interval={0}
                    tick={(p: any) => (
                        <text x={p.x} y={p.y} dominantBaseline="central" fontSize={32} fill={INK}>
                            {p.payload.value}
                        </text>
                    )}
                />
                {Array.from({ length: segmentCount }, (_, i) => (
                    <Bar key={i} dataKey={`s${i}`} stackId="gene" isAnimationActive={false}>
                        <Cell fill={topGeneRuns[i] ? levelColor(topGeneRuns[i][1]) : "none"} />
                        <Cell fill={bottomGeneRuns[i] ? levelColor(bottomGeneRuns[i][1]) : "none"} />
                    </Bar>
                ))}
            </BarChart>
        </div>
    )
}

function AnnotationBar() {
    const row = [{ name: "type", low: lowGroupColumns, high: highGroupColumns }]
    return (
        <div style={{ shapeRendering: "crispEdges" }}>
            <BarChart layout="vertical" width={1647} height={28.5} data={row} margin={{ top: 0, right: 0, bottom: 0, left: 0 }} barCategoryGap={0}>
                <XAxis type="number" domain={[0, heatColumns]} allowDataOverflow hide />
                <YAxis
                    type="category"
                    dataKey="name"
                    orientation="right"
                    width={100}
                    axisLine={false}
                    tickLine={false}
                    tickSize={13}
                    tickMargin={0}
                    tick={(p: any) => (
                        <text x={p.x} y={p.y} dominantBaseline="central" fontSize={28} fontWeight={700} fill={INK}>
                            {p.payload.value}
                        </text>
                    )}
                />
                <Bar dataKey="low" stackId="t" fill="#FF8D84" isAnimationActive={false} />
                <Bar dataKey="high" stackId="t" fill="#00E0E8" isAnimationActive={false} />
            </BarChart>
        </div>
    )
}

function ColorKey() {
    const row: any = { name: "key" }
    keyPositiveSizes.forEach((v, i) => {
        row[`p${i}`] = v
    })
    keyNegativeSizes.forEach((v, i) => {
        row[`n${i}`] = -v
    })
    return (
        <div style={{ shapeRendering: "crispEdges" }}>
            <BarChart width={111.6} height={616} data={[row]} stackOffset="sign" margin={{ top: 0, right: 0, bottom: 0, left: 0 }} barCategoryGap={0}>
                <XAxis dataKey="name" hide />
                <YAxis
                    type="number"
                    orientation="right"
                    domain={[-9.45, 9.48]}
                    allowDataOverflow
                    ticks={keyTicks}
                    interval={0}
                    width={70}
                    axisLine={false}
                    tickLine={false}
                    tickSize={17}
                    tickMargin={0}
                    tick={(p: any) => (
                        <text x={p.x} y={p.y} dominantBaseline="central" fontSize={27} fill={INK}>
                            {String(p.payload.value).replace("-", "\u2212")}
                        </text>
                    )}
                />
                {keyPositiveSizes.map((_, i) => (
                    <Bar key={`p${i}`} dataKey={`p${i}`} stackId="k" fill={keyPositiveColors[i]} isAnimationActive={false} />
                ))}
                {keyNegativeSizes.map((_, i) => (
                    <Bar key={`n${i}`} dataKey={`n${i}`} stackId="k" fill={keyNegativeColors[i]} isAnimationActive={false} />
                ))}
            </BarChart>
        </div>
    )
}

export default function App() {
    return (
        <div
            style={{
                position: "absolute",
                left: 0,
                top: 0,
                width: 2347,
                height: 3335,
                background: "#fff",
                overflow: "hidden",
                fontFamily: "'Liberation Sans', Arial, sans-serif",
            }}
        >
            {/* leftover rules of the pasted figure panels */}
            <Box x={37} y={217} w={1083} h={2} color="#f4f4f4" />
            <Box x={37} y={217} w={2} h={883} color="#f4f4f4" />
            <Box x={1203} y={567} w={1144} h={3} color="#e6e6e6" />
            <Box x={1175} y={1115} w={1172} h={3} color="#ececec" />
            <Box x={15} y={1192} w={1069} h={2} color="#e2e2e2" />
            <Box x={1084} y={2159} w={181} h={2} color="#e2e2e2" />
            <Box x={2057} y={2160} w={290} h={2} color="#dddddd" />
            <Box x={2057} y={2160} w={2} h={1175} color="#dddddd" />
            <Box x={0} y={3330} w={2057} h={3} color="#eeeeee" />

            {/* A */}
            <Txt x={20} y={266} size={44} bold>A</Txt>
            <Txt x={510} y={242} size={23}>Risk</Txt>
            <Box x={548} y={225} w={36} h={36} color="#FFB3B3" />
            <Box x={552} y={241} w={28} h={4} color={RED} />
            <Box x={565} y={235} w={2} h={16} color={RED} />
            <Txt x={598} y={242} size={23} anchor="start">High risk</Txt>
            <Box x={703} y={225} w={36} h={36} color="#B3B3FF" />
            <Box x={707} y={241} w={28} h={4} color={BLUE} />
            <Box x={720} y={235} w={2} h={16} color={BLUE} />
            <Txt x={753} y={242} size={23} anchor="start">Low risk</Txt>
            <At x={90} y={290}>
                <SurvivalPanel />
            </At>
            <Txt x={62} y={551} size={32.5} rotate={-90}>Survival probability</Txt>
            <Txt x={338} y={688} size={40}>p=0.006</Txt>
            <Txt x={664} y={857} size={32}>Time(years)</Txt>
            <At x={90} y={940}>
                <RiskTablePanel />
            </At>
            <Txt x={60} y={991} size={30} rotate={-90}>Risk</Txt>
            <Txt x={664} y={1090} size={32}>Time(years)</Txt>

            {/* B */}
            <Txt x={1194} y={24} size={44} bold>B</Txt>
            <At x={1200} y={0}>
                <RiskScorePanel />
            </At>
            <Box x={1338.5} y={33.5} w={17} h={17} color={RED} round />
            <Txt x={1379} y={43} size={33} anchor="start">High risk</Txt>
            <Box x={1338.5} y={76} w={17} h={17} color={LIME} round />
            <Txt x={1379} y={85} size={33} anchor="start">Low Risk</Txt>
            <Txt x={1193} y={190} size={29} rotate={-90}>Risk score</Txt>
            <Txt x={1824} y={501} size={29.5}>Patients (increasing risk socre)</Txt>

            {/* C */}
            <Txt x={1194} y={551} size={44} bold>C</Txt>
            <At x={1200} y={560}>
                <SurvivalTimePanel />
            </At>
            <Box x={1339} y={624} w={16} h={16} color={RED} round />
            <Txt x={1379} y={633} size={33} anchor="start">Dead</Txt>
            <Box x={1339} y={667} w={16} h={16} color={LIME} round />
            <Txt x={1379} y={676} size={33} anchor="start">Alive</Txt>
            <Txt x={1193} y={781} size={30.5} rotate={-90}>Survival time (years)</Txt>
            <Txt x={1824} y={1096} size={29.5}>Patients (increasing risk socre)</Txt>

            {/* D */}
            <Txt x={22} y={1194} size={44} bold>D</Txt>
            <At x={60} y={1190}>
                <RocPanel
                    width={1020}
                    height={901}
                    margin={{ top: 14.4, right: 12, bottom: 0, left: 0 }}
                    yWidth={97}
                    xHeight={90}
                    xDomain={[-0.04, 1.039]}
                    yDomain={[-0.04, 1.04]}
                    tickX={21}
                    tickY={20}
                    dy={36.7}
                    dx={38}
                    size={31}
                    curves={[
                        { name: "gender", data: rocGender, color: "#00E65C" },
                        { name: "age", data: rocAge, color: "#B3E600" },
                        { name: "risk", data: rocRisk, color: "#F01414", step: true },
                        { name: "stage", data: rocStage, color: "#0A5FE0" },
                    ]}
                />
            </At>
            <Txt x={24} y={1601} size={32} rotate={-90}>Sensitivity</Txt>
            <Txt x={612} y={2136} size={31}>1{"\u2212"}Specificity</Txt>
            {[
                ["Risk, AUC=0.572", "#F01414", 1848],
                ["age, AUC=0.535", "#B3E600", 1886],
                ["gender, AUC=0.503", "#00E65C", 1925],
                ["stage, AUC=0.560", "#0A5FE0", 1963],
            ].map(([label, color, y]: any) => (
                <React.Fragment key={label}>
                    <Box x={687} y={y - 1.5} w={60} h={3} color={color} />
                    <Txt x={774} y={y} size={32} anchor="start">{label}</Txt>
                </React.Fragment>
            ))}

            {/* E */}
            <Txt x={1296} y={1193} size={44} bold>E</Txt>
            <At x={1360} y={1210}>
                <RocPanel
                    width={987}
                    height={861.2}
                    margin={{ top: 15.7, right: 11.1, bottom: 0, left: 0 }}
                    yWidth={93.6}
                    xHeight={110}
                    xDomain={[-0.0394, 1.0403]}
                    yDomain={[-0.04, 1.04]}
                    tickX={24.5}
                    tickY={23}
                    dy={46}
                    dx={47.6}
                    size={36}
                    dashed
                    curves={[
                        { name: "1", data: roc1Year, color: "#F01414", step: true },
                        { name: "2", data: roc2Year, color: "#B3E600", step: true },
                        { name: "3", data: roc3Year, color: "#00E65C", step: true },
                    ]}
                />
            </At>
            <Txt x={1291} y={1594} size={38} rotate={-90}>Sensitivity</Txt>
            <Txt x={1894} y={2127} size={38}>1{"\u2212"}Specificity</Txt>
            {[
                ["AUC at 1 years: 0.572", "#F01414", 1822],
                ["AUC at 2 years: 0.602", "#B3E600", 1868],
                ["AUC at 3 years: 0.597", "#00E65C", 1915],
            ].map(([label, color, y]: any) => (
                <React.Fragment key={label}>
                    <Box x={1829} y={y - 1.5} w={73} h={3} color={color} />
                    <Txt x={1936} y={y} size={38.5} anchor="start">{label}</Txt>
                </React.Fragment>
            ))}

            {/* heatmap */}
            <At x={21} y={2184.5}>
                <AnnotationBar />
            </At>
            <At x={21} y={2225.3}>
                <HeatmapPanel />
            </At>
            <At x={1852.8} y={2179}>
                <ColorKey />
            </At>
            <Txt x={1946} y={2191} size={28} bold anchor="start">type</Txt>
            <Box x={1947} y={2212} w={40} h={40} color="#00E0E8" />
            <Box x={1947} y={2252} w={40} h={40} color="#FF8D84" />
            <Txt x={1995} y={2233} size={27.5} anchor="start">high</Txt>
            <Txt x={1995} y={2273} size={27.5} anchor="start">low</Txt>
        </div>
    )
}
